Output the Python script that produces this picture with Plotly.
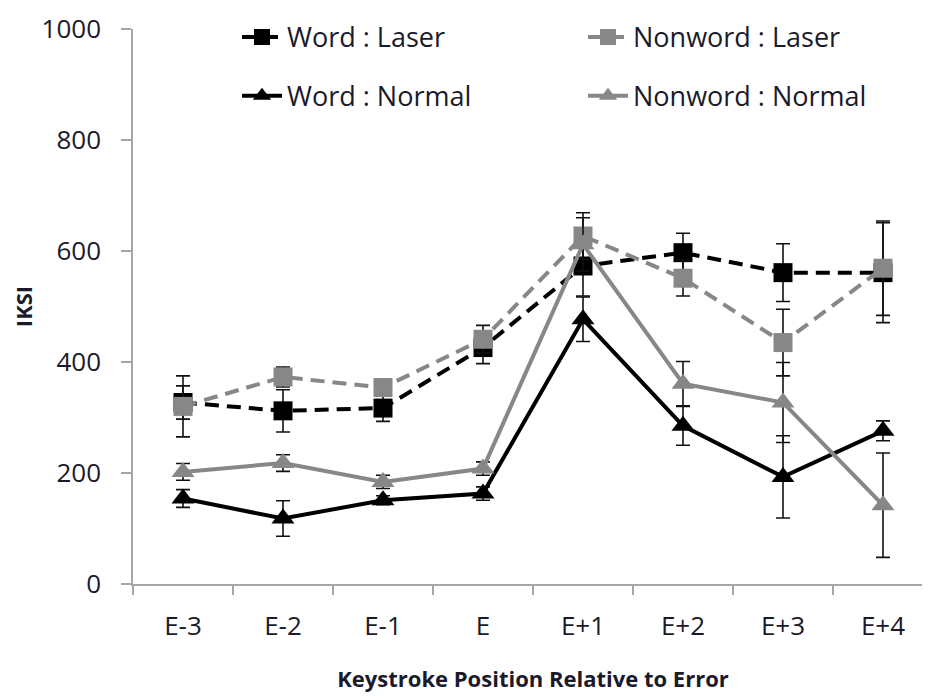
import plotly.graph_objects as go

categories = ["E-3", "E-2", "E-1", "E", "E+1", "E+2", "E+3", "E+4"]

word_laser = [327, 312, 317, 426, 573, 597, 561, 561]
word_laser_err = [30, 38, 24, 29, 54, 35, 52, 90]

nonword_laser = [320, 373, 354, 441, 627, 551, 435, 569]
nonword_laser_err = [55, 18, 10, 25, 42, 32, 60, 85]

word_normal = [154, 118, 151, 163, 477, 285, 193, 276]
word_normal_err = [16, 32, 8, 12, 40, 35, 74, 18]

nonword_normal = [202, 218, 184, 208, 612, 361, 327, 142]
nonword_normal_err = [15, 15, 12, 12, 48, 40, 72, 94]

BLACK = "#000000"
GRAY = "#878787"
FONT = "Open Sans"
TXT = "#1a1a2a"

fig = go.Figure()


def add(name, y, err, color, dash, symbol, legend):
    fig.add_trace(go.Scatter(
        x=categories, y=y, name=name, mode="lines+markers",
        line=dict(color=color, width=4, dash=dash),
        marker=dict(symbol=symbol, size=19 if symbol == "square" else 20, color=color),
        error_y=dict(type="data", array=err, visible=True, color="#111111",
                     thickness=1.6, width=7),
        legend=legend,
    ))


add("Word : Laser", word_laser, word_laser_err, BLACK, "14px,8px", "square", "legend")
add("Word : Normal", word_normal, word_normal_err, BLACK, "solid", "triangle-up", "legend3")
add("Nonword : Laser", nonword_laser, nonword_laser_err, GRAY, "14px,8px", "square", "legend2")
add("Nonword : Normal", nonword_normal, nonword_normal_err, GRAY, "solid", "triangle-up", "legend4")

legend_common = dict(
    orientation="h", xanchor="left", yanchor="middle",
    font=dict(family=FONT, size=27, color=TXT),
    bgcolor="rgba(0,0,0,0)", itemwidth=40,
)

fig.update_layout(
    width=930, height=696,
    margin=dict(l=125, r=5, t=19, b=120),
    paper_bgcolor="white", plot_bgcolor="white",
    showlegend=True,
    legend=dict(x=0.13, y=0.985, **legend_common),
    legend2=dict(x=0.5625, y=0.985, **legend_common),
    legend3=dict(x=0.13, y=0.879, **legend_common),
    legend4=dict(x=0.5625, y=0.879, **legend_common),
    xaxis=dict(
        type="category", range=[-0.5, 7.5], automargin=False,
        showline=True, linecolor="#a6a6a6", linewidth=1.5,
        ticks="outside", ticklen=9, tickcolor="#a6a6a6", tickwidth=1.5,
        tickson="boundaries", showgrid=False, zeroline=False,
        tickfont=dict(family=FONT, size=26, color=TXT),
        ticklabelstandoff=18,
        title=dict(text="<b>Keystroke Position Relative to Error</b>",
                   font=dict(family=FONT, size=22, color=TXT), standoff=30),
    ),
    yaxis=dict(
        range=[0, 1000], tickvals=[0, 200, 400, 600, 800, 1000], automargin=False,
        showline=True, linecolor="#a6a6a6", linewidth=1.5,
        ticks="outside", ticklen=10, tickcolor="#a6a6a6", tickwidth=1.5,
        showgrid=False, zeroline=False,
        tickfont=dict(family=FONT, size=26, color=TXT),
        ticklabelstandoff=15,
        title=dict(text="<b>IKSI</b>",
                   font=dict(family=FONT, size=22, color=TXT), standoff=8),
    ),
)

fig.write_html("out.html")
